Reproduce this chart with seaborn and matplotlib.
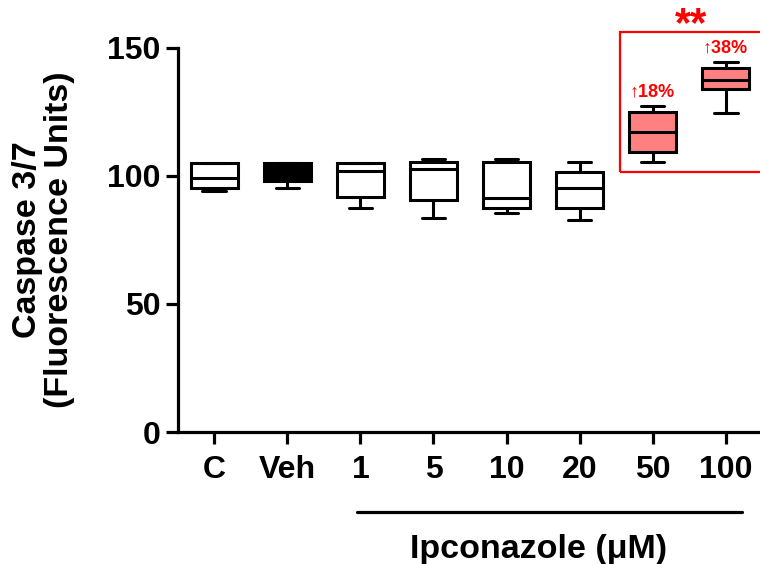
import matplotlib
matplotlib.use("Agg")
import matplotlib.pyplot as plt
import seaborn as sns
import pandas as pd
from matplotlib.patches import Rectangle

categories = ["C", "Veh", "1", "5", "10", "20", "50", "100"]
# five-number summaries: min, Q1, median, Q3, max
values = {
    "C":   [94.1, 95.3, 99.2, 105.1, 105.1],
    "Veh": [95.3, 98.0, 100.0, 105.0, 105.0],
    "1":   [87.5, 91.8, 102.0, 105.0, 105.0],
    "5":   [83.6, 90.6, 102.7, 105.5, 106.6],
    "10":  [85.7, 87.5, 91.5, 105.5, 106.6],
    "20":  [82.8, 87.5, 95.2, 101.4, 105.5],
    "50":  [105.3, 109.5, 117.3, 124.9, 127.2],
    "100": [124.5, 133.9, 137.4, 142.3, 144.4],
}
fill_colors = ["white", "black", "white", "white", "white", "white", "#ff8080", "#ff8080"]
pct_labels = {"50": "\u219118%", "100": "\u219138%"}
yticks = [0, 50, 100, 150]

rows = [(c, v) for c in categories for v in values[c]]
df = pd.DataFrame(rows, columns=["group", "value"])

sns.set_style("ticks")
plt.rcParams["font.family"] = ["Liberation Sans", "DejaVu Sans"]
plt.rcParams["font.weight"] = "bold"
plt.rcParams["text.color"] = "black"
plt.rcParams["axes.labelcolor"] = "black"
plt.rcParams["xtick.color"] = "black"
plt.rcParams["ytick.color"] = "black"
plt.rcParams["axes.edgecolor"] = "black"

fig = plt.figure(figsize=(7.6, 5.64), dpi=100)
ax = fig.add_axes([0.234, 0.234, 0.766, 0.681])

sns.boxplot(data=df, x="group", y="value", hue="group", order=categories,
            hue_order=categories, palette=dict(zip(categories, fill_colors)),
            whis=(0, 100), width=0.65, linecolor="black", linewidth=2.2,
            saturation=1, legend=False, ax=ax, dodge=False)

ax.set_xlim(-0.5, 7.47)
ax.set_ylim(0, 150)
ax.set_yticks(yticks)
ax.set_xlabel("")
ax.set_ylabel("Caspase 3/7\n(Fluorescence Units)", fontsize=24.5, fontweight="bold",
              linespacing=1.05, color="black")
ax.yaxis.set_label_coords(-0.176, 0.5)
sns.despine(ax=ax)
for s in ["left", "bottom"]:
    ax.spines[s].set_linewidth(2.3)
    ax.spines[s].set_color("black")
ax.tick_params(axis="both", width=2.3, length=8.5, labelsize=23, colors="black")
ax.tick_params(axis="x", pad=8)
ax.tick_params(axis="y", pad=4)
for lab in ax.get_xticklabels() + ax.get_yticklabels():
    lab.set_fontweight("bold")

# Ipconazole bracket
ax.plot([1.95, 7.22], [-31.2, -31.2], color="black", lw=2.3, clip_on=False)
ax.text(4.44, -45.8, "Ipconazole (\u03bcM)", ha="center", va="center",
        fontsize=24.5, fontweight="bold", color="black")

# significance box
ax.add_patch(Rectangle((5.55, 101.6), 2.2, 54.7, fill=False, edgecolor="#ff0000",
                       lw=1.6, clip_on=False))
ax.text(6.52, 159.0, "**", ha="center", va="center", fontsize=30,
        fontweight="bold", color="#ff0000")
for c in ["50", "100"]:
    i = categories.index(c)
    top = max(values[c])
    ax.text(i, top + 5.5, pct_labels[c], ha="center", va="center", fontsize=13,
            fontweight="bold", color="#ff0000")

fig.savefig("out.png", dpi=100)
